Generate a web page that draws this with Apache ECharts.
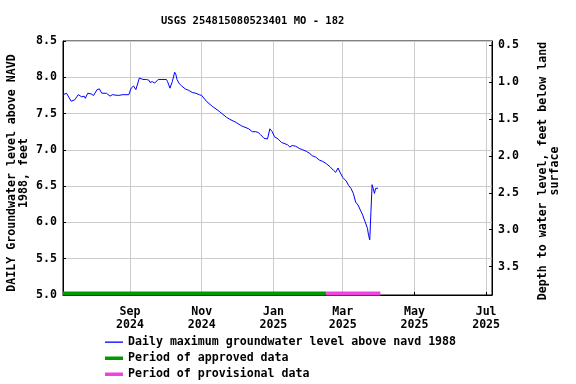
<!DOCTYPE html>
<html>
<head>
<meta charset="utf-8">
<script src="https://cdn.jsdelivr.net/npm/echarts@6/dist/echarts.min.js"></script>
<style>html,body{margin:0;padding:0;background:#fff}#c{width:576px;height:384px}</style>
</head>
<body>
<div id="c"></div>
<script>
// Daily maximum groundwater level above NAVD 1988 (feet)
const levelDates = [
 '2024-07-06','2024-07-09','2024-07-13','2024-07-16','2024-07-19','2024-07-22','2024-07-24','2024-07-25',
 '2024-07-27','2024-07-30','2024-08-01','2024-08-04','2024-08-06','2024-08-08','2024-08-12','2024-08-13',
 '2024-08-15','2024-08-17','2024-08-22','2024-08-26','2024-08-31','2024-09-02','2024-09-04','2024-09-06',
 '2024-09-07','2024-09-09','2024-09-10','2024-09-12','2024-09-15','2024-09-17','2024-09-18','2024-09-20',
 '2024-09-22','2024-09-23','2024-09-25','2024-10-02','2024-10-03','2024-10-05','2024-10-07','2024-10-09',
 '2024-10-10','2024-10-11','2024-10-13','2024-10-15','2024-10-18','2024-10-21','2024-10-24','2024-10-27',
 '2024-10-30','2024-11-01','2024-11-05','2024-11-10','2024-11-16','2024-11-22','2024-11-25','2024-11-30',
 '2024-12-05','2024-12-11','2024-12-14','2024-12-17','2024-12-19','2024-12-21','2024-12-24','2024-12-27',
 '2024-12-28','2024-12-29','2024-12-31','2025-01-02','2025-01-05','2025-01-08','2025-01-10','2025-01-13',
 '2025-01-15','2025-01-17','2025-01-20','2025-01-23','2025-01-26','2025-01-29','2025-02-01','2025-02-03',
 '2025-02-06','2025-02-09','2025-02-12','2025-02-15','2025-02-18','2025-02-21','2025-02-23','2025-02-25',
 '2025-02-27','2025-03-01','2025-03-04','2025-03-06','2025-03-08','2025-03-10','2025-03-12','2025-03-14',
 '2025-03-16','2025-03-18','2025-03-20','2025-03-22','2025-03-23','2025-03-24','2025-03-25','2025-03-26',
 '2025-03-27','2025-03-28','2025-03-29','2025-03-31'
];
const levelValues = [
 7.76,7.78,7.67,7.69,7.76,7.73,7.74,7.71,
 7.78,7.77,7.75,7.83,7.84,7.78,7.78,7.76,
 7.74,7.76,7.75,7.76,7.76,7.85,7.88,7.83,
 7.82,7.99,8.00,7.97,7.97,7.96,7.93,7.94,
 7.92,7.94,7.97,7.97,7.94,7.85,7.94,8.07,
 8.04,7.97,7.91,7.88,7.84,7.82,7.79,7.78,
 7.76,7.75,7.67,7.60,7.53,7.45,7.42,7.38,
 7.33,7.29,7.25,7.25,7.24,7.21,7.16,7.15,
 7.16,7.29,7.25,7.18,7.15,7.10,7.09,7.07,
 7.04,7.06,7.05,7.02,7.00,6.98,6.95,6.92,
 6.90,6.86,6.84,6.81,6.77,6.72,6.69,6.75,
 6.68,6.62,6.57,6.51,6.47,6.40,6.28,6.24,
 6.17,6.10,6.01,5.92,5.82,5.76,6.15,6.52,
 6.54,6.40,6.47,6.47
];
const approvedPeriod = ['2024-07-06','2025-02-15'];
const provisionalPeriod = ['2025-02-15','2025-04-02'];
const periodLevel = 5.02;
const xRange = ['2024-07-06','2025-07-06'];
const xTickDates = ['2024-09-01','2024-11-01','2025-01-01','2025-03-01','2025-05-01','2025-07-01'];
const rightTicks = [0.5,1.0,1.5,2.0,2.5,3.0,3.5];
const monthNames = ['Jan','Feb','Mar','Apr','May','Jun','Jul','Aug','Sep','Oct','Nov','Dec'];
const legendNames = ['Daily maximum groundwater level above navd 1988','Period of approved data','Period of provisional data'];

function toTime(s){ const p = s.split('-').map(Number); return Date.UTC(p[0], p[1]-1, p[2]); }

const FONT = 'DejaVu Sans Mono';
const chart = echarts.init(document.getElementById('c'), null, {renderer:'canvas'});
const lvlData = levelDates.map((d,i)=>[toTime(d), levelValues[i]]);
const xTicks = xTickDates.map(toTime);

chart.setOption({
  animation:false,
  backgroundColor:'#fff',
  title:{text:'USGS 254815080523401 MO - 182', left:156, top:11,
    textStyle:{fontFamily:FONT,fontSize:10.5,fontWeight:'bold',color:'#000'}},
  grid:{left:63,right:84,top:41,bottom:89,containLabel:false,outerBoundsMode:'none',
    show:true,borderColor:'#000',borderWidth:1,backgroundColor:'transparent'},
  legend:{orient:'vertical',left:105,top:336,padding:0,itemWidth:18,itemHeight:12,itemGap:4,
    textStyle:{fontFamily:FONT,fontSize:11.6,fontWeight:'bold',color:'#000',lineHeight:12},
    data:[
      {name:legendNames[0],icon:'path://M0,0M18,12M0,5.5L18,5.5L18,6.8L0,6.8Z'},
      {name:legendNames[1],icon:'path://M0,0M18,12M0,4.5L18,4.5L18,8L0,8Z'},
      {name:legendNames[2],icon:'path://M0,0M18,12M0,4.5L18,4.5L18,8L0,8Z'}
    ]},
  xAxis:{type:'value',min:toTime(xRange[0]),max:toTime(xRange[1]),
    axisLine:{lineStyle:{color:'#000'}},
    axisTick:{show:true,inside:true,length:3,lineStyle:{color:'#000'},customValues:xTicks},
    splitLine:{show:true,lineStyle:{color:'#cccccc',width:1}},
    axisLabel:{customValues:xTicks,margin:10,lineHeight:13.5,
      fontFamily:FONT,fontSize:11.6,fontWeight:'bold',color:'#000',
      formatter:function(v){const d=new Date(v);return monthNames[d.getUTCMonth()]+'\n'+d.getUTCFullYear();}}},
  yAxis:[
    {type:'value',min:5,max:8.5,interval:0.5,position:'left',
     name:'DAILY Groundwater level above NAVD\n1988, feet',nameLocation:'middle',nameGap:33,nameMoveOverlap:false,
     nameTextStyle:{fontFamily:FONT,fontSize:11.6,fontWeight:'bold',color:'#000',lineHeight:12,padding:[0,10,0,0]},
     axisLine:{show:true,lineStyle:{color:'#000'}},
     axisTick:{show:true,inside:true,length:3,lineStyle:{color:'#000'}},
     splitLine:{show:true,lineStyle:{color:'#cccccc',width:1}},
     axisLabel:{margin:6,fontFamily:FONT,fontSize:11.6,fontWeight:'bold',color:'#000',
       formatter:function(v){return v.toFixed(1);}}},
    {type:'value',min:0.446,max:3.883,inverse:true,position:'right',
     name:'Depth to water level, feet below land\nsurface',nameLocation:'middle',nameGap:45,
     nameTextStyle:{fontFamily:FONT,fontSize:11.6,fontWeight:'bold',color:'#000',lineHeight:12,padding:[0,6,0,0]},
     axisLine:{show:true,lineStyle:{color:'#000'}},
     axisTick:{show:true,inside:true,length:3,lineStyle:{color:'#000'},customValues:rightTicks},
     splitLine:{show:false},
     axisLabel:{customValues:rightTicks,margin:6,fontFamily:FONT,fontSize:11.6,fontWeight:'bold',color:'#000',
       formatter:function(v){return v.toFixed(1);}}}
  ],
  series:[
    {name:legendNames[0],type:'line',data:lvlData,
     showSymbol:false,symbol:'none',lineStyle:{color:'#0000ff',width:1},itemStyle:{color:'#0000ff'},z:5},
    {name:legendNames[1],type:'line',data:approvedPeriod.map(d=>[toTime(d),periodLevel]),
     showSymbol:false,symbol:'none',lineStyle:{color:'#009900',width:4},itemStyle:{color:'#009900'},z:4},
    {name:legendNames[2],type:'line',data:provisionalPeriod.map(d=>[toTime(d),periodLevel]),
     showSymbol:false,symbol:'none',lineStyle:{color:'#ee44dd',width:4},itemStyle:{color:'#ee44dd'},z:4}
  ]
});
</script>
</body>
</html>
